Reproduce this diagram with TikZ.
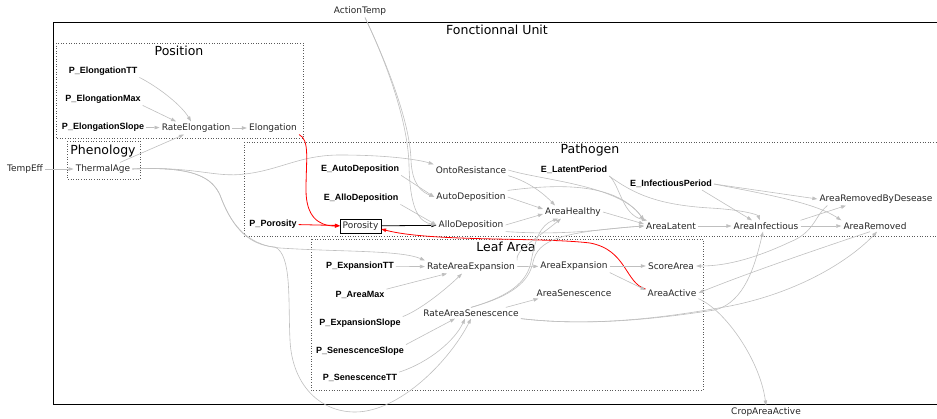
\documentclass[tikz,border=0pt]{standalone}
\usepackage{fontspec}
\newfontfamily\dv{DejaVu Sans}
\newfontfamily\lb{Liberation Sans}
\usetikzlibrary{arrows.meta}
\begin{document}
\begin{tikzpicture}[x=1pt,y=-1pt,
  lab/.style={font=\dv\fontsize{9}{10}\selectfont, text=black!85, inner sep=2pt},
  prm/.style={font=\lb\bfseries\fontsize{9}{10}\selectfont, inner sep=2pt},
  ttl/.style={font=\dv\fontsize{12.5}{14}\selectfont, inner sep=0pt},
  grp/.style={draw=black!65, dotted, line width=0.6pt},
  outer/.style={draw=black, line width=0.9pt},
  ed/.style={draw=black!25, line width=0.6pt, -{Triangle[length=5pt,width=3.5pt]}},
  redge/.style={draw=red, line width=0.8pt, -{Triangle[length=5pt,width=3.5pt]}},
  bedge/.style={draw=black, line width=0.8pt, -{Triangle[length=5pt,width=3.5pt]}}]
\useasboundingbox (0,0) rectangle (937,418);
% groups
\draw[outer] (937,22) -- (53,22) -- (53,404) -- (937,404);
\draw[grp] (56,43) rectangle (303,138);
\draw[grp] (67,141) rectangle (140,179);
\draw[grp] (244,142) -- (940,142) (244,142) -- (244,236) -- (940,236);
\draw[grp] (311,239) rectangle (703,390);
% titles
\node[ttl] (tfu) at (497,30) {Fonctionnal Unit};
\node[ttl] (tpos) at (179,51) {Position};
\node[ttl] (tphe) at (103,151) {Phenology};
\node[ttl] (tpat) at (590,150) {Pathogen};
\node[ttl] (tleaf) at (506,247) {Leaf Area};
% nodes
\node[lab] (tempeff) at (25,169) {TempEff};
\node[lab] (thermal) at (103,169) {ThermalAge};
\node[prm] (pett) at (103,71) {P\_ElongationTT};
\node[prm] (pemax) at (103,99) {P\_ElongationMax};
\node[prm] (peslope) at (103,127) {P\_ElongationSlope};
\node[lab] (rateel) at (196,128) {RateElongation};
\node[lab] (elong) at (273,128) {Elongation};
\node[lab] (actemp) at (360,11) {ActionTemp};
\node[lab] (onto) at (471,170) {OntoResistance};
\node[prm] (eauto) at (360,169) {E\_AutoDeposition};
\node[prm] (eallo) at (361,198) {E\_AlloDeposition};
\node[lab] (autodep) at (471,197) {AutoDeposition};
\node[lab] (allodep) at (471,225) {AlloDeposition};
\node[lab, draw=black, line width=0.6pt, minimum height=14pt, inner xsep=2.5pt] (poro) at (360.5,226) {Porosity};
\node[prm] (ppor) at (273,224) {P\_Porosity};
\node[lab] (health) at (573,212) {AreaHealthy};
\node[prm] (elat) at (574,170) {E\_LatentPeriod};
\node[lab] (latent) at (671,226) {AreaLatent};
\node[prm] (einf) at (671,184) {E\_InfectiousPeriod};
\node[lab] (infect) at (766,226) {AreaInfectious};
\node[lab] (rbd) at (876,199) {AreaRemovedByDesease};
\node[lab] (removed) at (875,226) {AreaRemoved};
\node[prm] (pexptt) at (360,266) {P\_ExpansionTT};
\node[prm] (pamax) at (360,295) {P\_AreaMax};
\node[prm] (pexpsl) at (360,323) {P\_ExpansionSlope};
\node[prm] (psensl) at (360,351) {P\_SenescenceSlope};
\node[prm] (psentt) at (360,378) {P\_SenescenceTT};
\node[lab] (raexp) at (471,267) {RateAreaExpansion};
\node[lab] (rasen) at (471,313) {RateAreaSenescence};
\node[lab] (aexp) at (574,266) {AreaExpansion};
\node[lab] (asen) at (574,293) {AreaSenescence};
\node[lab] (score) at (671,266) {ScoreArea};
\node[lab] (active) at (672,293) {AreaActive};
\node[lab] (crop) at (766,412) {CropAreaActive};
% position / phenology edges
\draw[ed] (tempeff) -- (thermal);
\draw[ed] (pett.south east) .. controls (160,88) and (182,106) .. ([xshift=-5pt]rateel.north);
\draw[ed] (pemax.south east) -- ([xshift=-20pt]rateel.north);
\draw[ed] (peslope) -- (rateel);
\draw[ed] ([xshift=17pt]thermal.north) -- ([xshift=-12pt]rateel.south);
\draw[ed] (rateel) -- (elong);
% thermal age outputs
\draw[ed] (thermal.east) .. controls (195,166) and (215,178) .. (245,174) .. controls (280,170) and (300,155) .. (340,155) .. controls (390,155) and (420,160) .. (onto.north west);
\draw[ed] (thermal.east) .. controls (195,166) and (212,178) .. (220,195) .. controls (230,222) and (245,245) .. (280,248) .. controls (340,252) and (400,250) .. (raexp.north west);
\draw[ed] (thermal.east) .. controls (195,166) and (212,178) .. (220,195) .. controls (230,222) and (245,245) .. (275,247) .. controls (292,255) and (288,300) .. (290,340) .. controls (292,385) and (320,412) .. (355,412) .. controls (400,412) and (450,360) .. (rasen.south);
% red edges
\draw[redge] (elong.south east) .. controls (310,140) and (306,160) .. (306,190) .. controls (306,216) and (318,226) .. (poro.west);
\draw[redge] (ppor) -- (poro);
\draw[redge] ([yshift=4pt]active.west) .. controls (625,283) and (627,250) .. (590,243) .. controls (540,237) and (430,242) .. ([yshift=-3pt]poro.east);
\draw[bedge] (poro) -- (allodep);
% action temp
\draw[ed] ([xshift=5pt]actemp.south) .. controls (390,70) and (410,125) .. (411,160) .. controls (412,185) and (422,192) .. (autodep.west);
\draw[ed] ([xshift=5pt]actemp.south) .. controls (390,70) and (408,125) .. (409,165) .. controls (410,212) and (420,222) .. (allodep.west);
\draw[ed] (eauto.south east) -- (autodep.west);
\draw[ed] (eallo.south east) -- (allodep.west);
% pathogen
\draw[ed] (onto.south east) .. controls (530,182) and (545,195) .. ([xshift=-18pt]health.north);
\draw[ed] (onto.east) .. controls (540,180) and (620,185) .. (latent.north west);
\draw[ed] (autodep.east) -- ([yshift=3pt]health.west);
\draw[ed] (autodep.north east) .. controls (550,185) and (615,180) .. (latent.north west);
\draw[ed] (allodep.east) -- ([yshift=-2pt]health.west);
\draw[ed] (allodep.south east) .. controls (570,236) and (610,228) .. (latent.west);
\draw[ed] (health.east) -- ([yshift=2pt]latent.west);
\draw[ed] (elat.south east) .. controls (620,185) and (622,215) .. ([xshift=3pt]latent.north west);
\draw[ed] (elat.south east) .. controls (635,195) and (660,205) .. (710,208) .. controls (745,210) and (758,215) .. ([xshift=-6pt]infect.north);
\draw[ed] (latent) -- (infect);
\draw[ed] ([xshift=-12pt]einf.south east) -- ([xshift=-14pt]infect.north);
\draw[ed] (einf.east) -- (rbd.west);
\draw[ed] (einf.east) .. controls (770,195) and (815,203) .. (removed.north west);
\draw[ed] (infect.north east) -- ([xshift=-30pt]rbd.south);
\draw[ed] (infect) -- (removed);
\draw[ed] ([xshift=10pt]rbd.south west) .. controls (815,215) and (815,232) .. (790,242) .. controls (760,256) and (730,266) .. (score.east);
\draw[ed] ([xshift=-5pt]removed.south) .. controls (830,245) and (750,272) .. (active.east);
\draw[ed] (rasen.south east) .. controls (600,328) and (680,315) .. (730,306) .. controls (800,292) and (850,260) .. ([xshift=2pt]removed.south);
\draw[ed] (rasen.south east) .. controls (600,328) and (680,315) .. (715,310) .. controls (745,302) and (755,265) .. ([xshift=-3pt]infect.south);
\draw[ed] (rasen.north) .. controls (510,296) and (527,282) .. (531,262) .. controls (535,240) and (540,225) .. ([xshift=-15pt]health.south);
\draw[ed] (rasen.north) .. controls (512,296) and (529,282) .. (533,262) .. controls (538,240) and (560,232) .. (latent.west);
% leaf area
\draw[ed] (raexp.north east) .. controls (515,250) and (535,240) .. ([xshift=-12pt]health.south);
\draw[ed] (raexp) -- (aexp);
\draw[ed] ([xshift=-15pt]rasen.north east) -- ([xshift=4pt]asen.south west);
\draw[ed] (aexp) -- (score);
\draw[ed] (aexp.south east) -- ([yshift=3pt]active.west);
\draw[ed] (active.south east) .. controls (725,310) and (760,360) .. (crop.north);
\draw[ed] (pexptt) -- (raexp);
\draw[ed] (pamax.north east) -- ([xshift=-24pt]raexp.south);
\draw[ed] (pexpsl.north east) .. controls (420,310) and (445,290) .. ([xshift=-9pt]raexp.south);
\draw[ed] (psensl.north east) -- ([xshift=-16pt]rasen.south);
\draw[ed] (psentt.north east) .. controls (430,362) and (455,340) .. ([xshift=-6pt]rasen.south);
\end{tikzpicture}
\end{document}
